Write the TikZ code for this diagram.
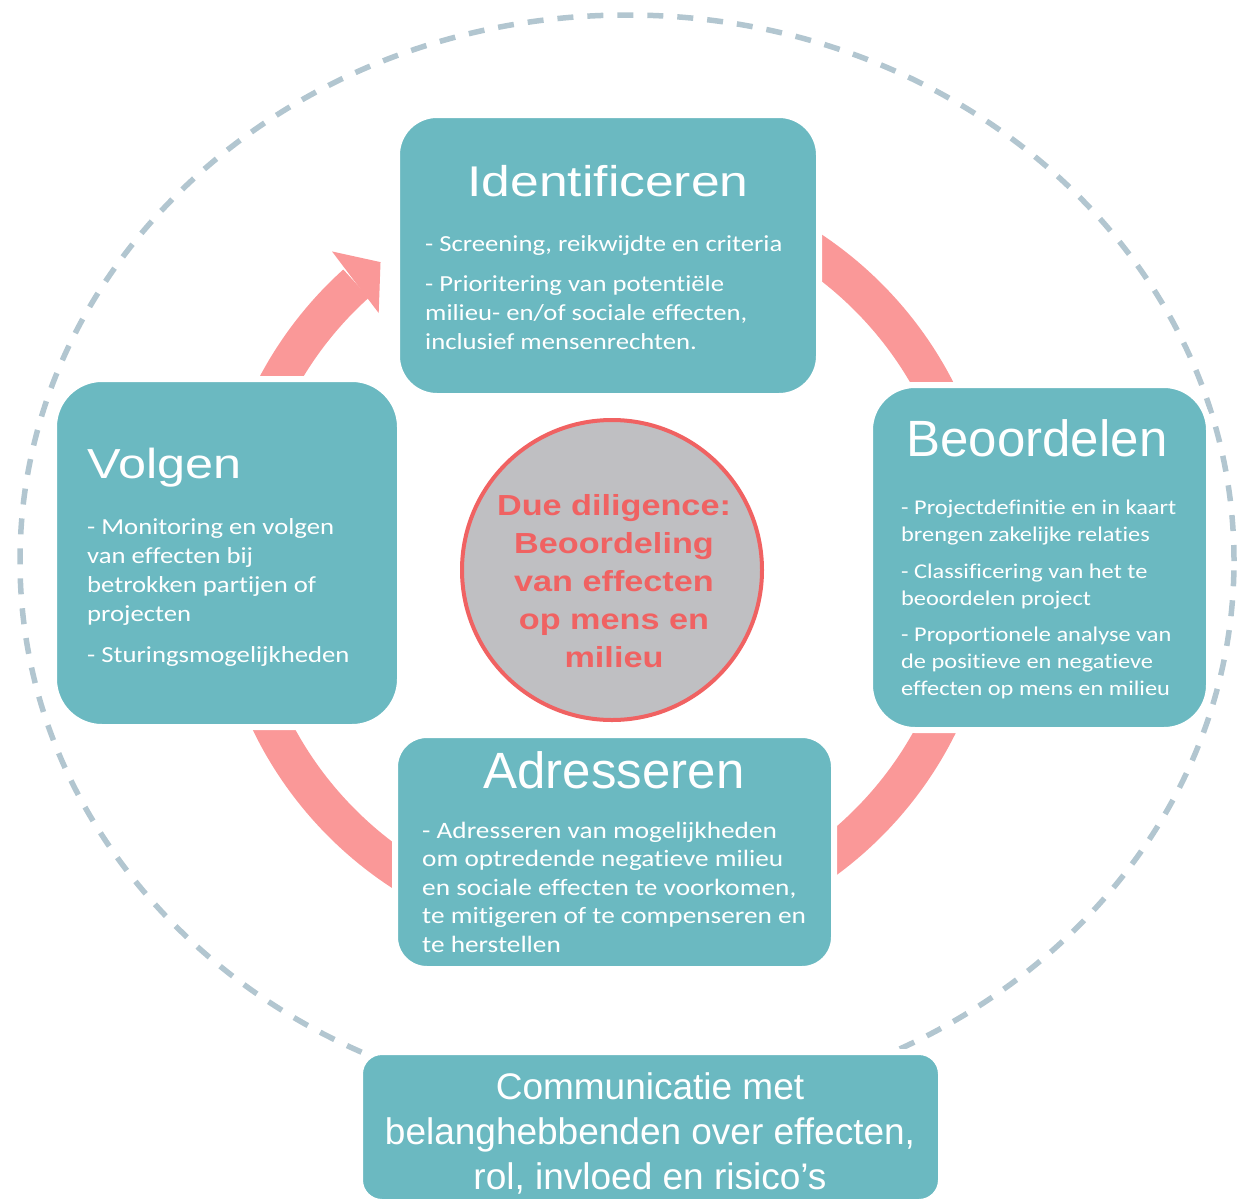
\documentclass[tikz,border=0pt]{standalone}
\usepackage{fontspec}
\usepackage{tikz}
\newfontfamily\headfont{Liberation Sans}
\newfontfamily\widehead[FakeStretch=1.2]{Liberation Sans}
\newfontfamily\bodyfont[FakeStretch=1.16,Ligatures=NoCommon]{Carlito}
\newfontfamily\ddfont[FakeStretch=1.18]{Liberation Sans}
\definecolor{stageteal}{RGB}{107,185,193}
\definecolor{ringpink}{RGB}{250,152,152}
\definecolor{rimblue}{RGB}{178,198,208}
\definecolor{ddgray}{RGB}{191,191,194}
\definecolor{ddred}{RGB}{240,98,98}

\begin{document}
\begin{tikzpicture}[x=1pt,y=1pt,
                    stage/.style={rectangle,rounded corners=#1,fill=stageteal,draw=white,
                                  line width=6pt,inner sep=0pt},
                    title/.style={text=white,inner sep=0pt,anchor=base},
                    body/.style={text=white,inner sep=0pt,anchor=north west,align=left},
                    ring/.style={ringpink,line width=38pt},
                    rim/.style={rimblue,line width=5.5pt,dash pattern=on 16pt off 14pt}]

 \useasboundingbox (0,0) rectangle (1248,-1200);

 \draw[rim] (627,-561) ellipse [x radius=607, y radius=546];

 \begin{scope}[shift={(605,-560)}]
  \draw[ring] (90:372) arc [start angle=90, end angle=-228, radius=372];
  \fill[ringpink] (131.5:412) -- (127:373) -- (132.5:335) -- cycle;
 \end{scope}

 \node[stage=40pt,minimum width=422pt,minimum height=281pt] (ident) at (608,-255.5) {};
 \node[title,font=\widehead\fontsize{43}{50}\selectfont] (identT) at (608,-196) {Identificeren};
 \node[body,font=\bodyfont\fontsize{23}{29}\selectfont] (identB) at (425,-235)
      {- Screening, reikwijdte en criteria\\[11pt]- Prioritering van potentiële\\milieu- en/of sociale effecten,\\inclusief mensenrechten.};

 \node[stage=45pt,minimum width=339pt,minimum height=345pt] (beoord) at (1039.5,-557.5) {};
 \node[title,font=\headfont\fontsize{51}{60}\selectfont] (beoordT) at (1037,-456) {Beoordelen};
 \node[body,font=\bodyfont\fontsize{21}{27}\selectfont] (beoordB) at (901,-500)
      {- Projectdefinitie en in kaart\\brengen zakelijke relaties\\[9.5pt]- Classificering van het te\\beoordelen project\\[9.5pt]- Proportionele analyse van\\de positieve en negatieve\\effecten op mens en milieu};

 \node[stage=48pt,minimum width=346pt,minimum height=348pt] (volg) at (227,-553) {};
 \node[title,anchor=base west,font=\widehead\fontsize{42}{50}\selectfont] (volgT) at (87,-478) {Volgen};
 \node[body,font=\bodyfont\fontsize{23}{29}\selectfont] (volgB) at (87,-518)
      {- Monitoring en volgen\\van effecten bij\\betrokken partijen of\\projecten\\[12pt]- Sturingsmogelijkheden};

 \node[stage=32pt,minimum width=439pt,minimum height=234pt] (adres) at (614.5,-852) {};
 \node[title,font=\headfont\fontsize{51}{60}\selectfont] (adresT) at (614,-788) {Adresseren};
 \node[body,font=\bodyfont\fontsize{23.5}{28.5}\selectfont] (adresB) at (422,-821.5)
      {- Adresseren van mogelijkheden\\om optredende negatieve milieu\\en sociale effecten te voorkomen,\\te mitigeren of te compenseren en\\te herstellen};

 \node[stage=22pt,minimum width=581pt,minimum height=150pt] (comm) at (650.5,-1127) {};
 \node[text=white,inner sep=0pt,anchor=north,align=center,font=\headfont\fontsize{37}{45}\selectfont] (commT) at (650,-1072)
      {Communicatie met\\belanghebbenden over effecten,\\rol, invloed en risico’s};

 \node[circle,fill=ddgray,draw=ddred,line width=4pt,minimum size=300pt,inner sep=0pt] (dd) at (612,-570) {};
 \node[text=ddred,inner sep=0pt,anchor=north,align=center,font=\ddfont\bfseries\fontsize{29}{38}\selectfont] (ddT) at (614,-494)
      {Due diligence:\\Beoordeling\\van effecten\\op mens en\\milieu};

\end{tikzpicture}
\end{document}
